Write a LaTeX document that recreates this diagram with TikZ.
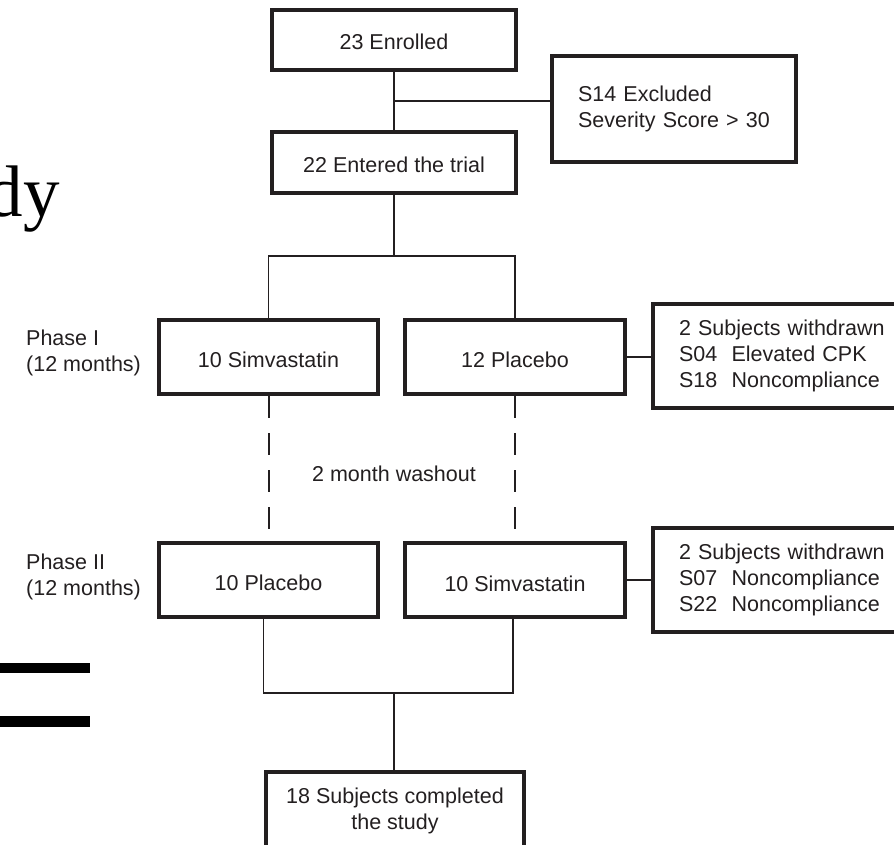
\documentclass[tikz,border=0pt]{standalone}
\usepackage{fontspec}
\setmainfont{Liberation Sans}
\newfontfamily\titleserif{Liberation Serif}
\usetikzlibrary{calc}
\definecolor{ink}{HTML}{231F20}
\begin{document}
\begin{tikzpicture}[x=1pt,y=-1pt,
  every node/.style={text=ink, font=\fontsize{21.5}{26}\selectfont},
  box/.style={draw=ink, line width=4pt, inner sep=0pt, align=center},
  onebox/.style={box, text height=20pt, text depth=0pt},
  sidebox/.style={draw=ink, line width=4pt, align=left, inner ysep=0pt},
  thin/.style={draw=ink, line width=1.8pt},
  washline/.style={draw=ink, line width=2pt, dash pattern=on 22pt off 15pt},
  lbl/.style={align=left, inner sep=0pt, anchor=west}]
\useasboundingbox (0,0) rectangle (894,845);

% slide fragments
\node[inner sep=0pt, anchor=base east, text=black, font=\titleserif\fontsize{73}{80}\selectfont] (ttl) at (60,217) {dy};
\fill[black] (0,663) rectangle (90,673);
\fill[black] (0,716) rectangle (90,727);

% boxes
\node[onebox, minimum width=244pt, minimum height=60pt] (enr) at (394,40) {23 Enrolled};
\node[onebox, minimum width=244pt, minimum height=61pt] (ent) at (394,162.5) {22 Entered the trial};
\node[sidebox, text width=192pt, inner xsep=26pt, minimum height=106pt] (exc) at (674,109) {\mbox{S14 Excluded}\\\mbox{Severity Score > 30}};

\node[onebox, minimum width=219pt, minimum height=74pt] (s1) at (268.5,357) {10 Simvastatin};
\node[onebox, minimum width=220pt, minimum height=74pt] (p1) at (515,357) {12 Placebo};
\node[sidebox, text width=230pt, inner xsep=26pt, minimum height=104pt] (w1) at (794,356) {\mbox{2 Subjects withdrawn}\\\mbox{S04\ \ Elevated CPK}\\\mbox{S18\ \ Noncompliance}};

\node[onebox, minimum width=219pt, minimum height=74pt] (p2) at (268.5,580) {10 Placebo};
\node[onebox, minimum width=220pt, minimum height=74pt, text height=22pt] (s2) at (515,580) {10 Simvastatin};
\node[sidebox, text width=230pt, inner xsep=26pt, minimum height=104pt] (w2) at (794,580) {\mbox{2 Subjects withdrawn}\\\mbox{S07\ \ Noncompliance}\\\mbox{S22\ \ Noncompliance}};

\node[box, minimum width=258pt, minimum height=78pt] (fin) at (395,811) {18 Subjects completed\\the study};

% labels
\node[lbl] (ph1) at (26,353) {Phase I\\(12 months)};
\node[lbl] (ph2) at (26,577) {Phase II\\(12 months)};
\node (wash) at (394,474) {2 month washout};

% connectors
\draw[thin] (enr.south) -- (ent.north);
\coordinate (j1) at ($(enr.south)!0.5!(ent.north)$);
\draw[thin] (j1) -- (j1 -| exc.west);
\coordinate (j2) at (394,256);
\draw[thin] (ent.south) -- (j2);
\draw[thin] (s1.north) |- (j2) -| (p1.north);
\draw[thin] (p1.east) -- (p1.east -| w1.west);
\draw[washline] (s1.south) -- (p2.north);
\draw[washline] (p1.south) -- (s2.north);
\draw[thin] (s2.east) -- (s2.east -| w2.west);
\coordinate (j3) at (394,693);
\draw[thin] ($(p2.south)+(-5,0)$) |- (j3) -| ($(s2.south)+(-2,0)$);
\draw[thin] (j3) -- (j3 |- fin.north);
\end{tikzpicture}
\end{document}
